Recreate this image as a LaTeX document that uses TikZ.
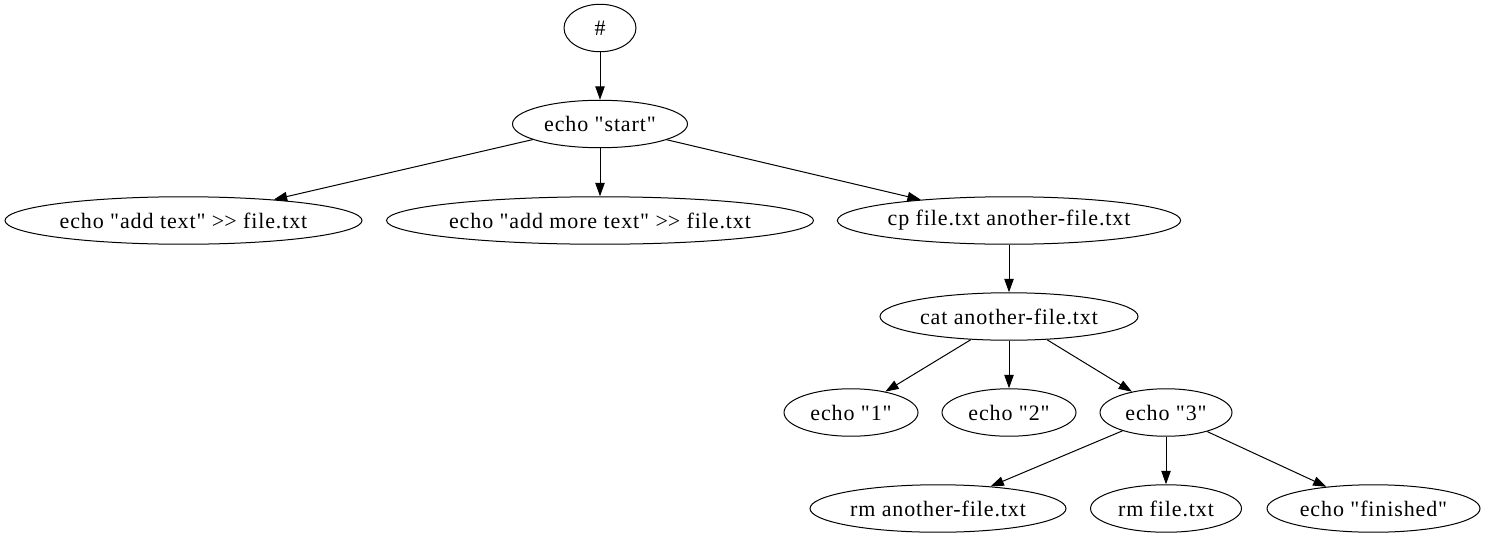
\documentclass[tikz,border=0pt]{standalone}
\usepackage{fontspec}
\newfontfamily\gvfont{Liberation Serif}[LetterSpace=4]
\usetikzlibrary{shapes.geometric,arrows.meta}

\tikzset{
  cmd/.style={draw, ellipse, inner sep=0pt, minimum height=35.6pt, line width=0.75pt, font=\gvfont\fontsize{16.5}{18}\selectfont},
  edge/.style={-{Triangle[length=10pt,width=7pt]}, line width=0.75pt}
}

\begin{document}
\begin{tikzpicture}[x=0.75pt,y=0.75pt,yscale=-1,xscale=1]
\useasboundingbox (0,0) rectangle (1487,539);

% Nodes
\node [cmd, minimum width=54pt] (root) at (600,28) {\#};
\node [cmd, minimum width=131.25pt] (start) at (600,124) {echo "start"};
\node [cmd, minimum width=267.75pt] (addtext) at (183.5,220.5) {echo "add text" >\kern0pt> file.txt};
\node [cmd, minimum width=320.25pt] (addmore) at (600,220.5) {echo "add more text" >\kern0pt> file.txt};
\node [cmd, minimum width=253.5pt] (cp) at (1009,220.5) {cp file.txt another-file.txt};
\node [cmd, minimum width=193.5pt] (cat) at (1009,316.5) {cat another-file.txt};
\node [cmd, minimum width=100.5pt] (one) at (851,412.5) {echo "1"};
\node [cmd, minimum width=100.5pt] (two) at (1009,412.5) {echo "2"};
\node [cmd, minimum width=99pt] (three) at (1166,412.5) {echo "3"};
\node [cmd, minimum width=192pt] (rmanother) at (938,508.5) {rm another-file.txt};
\node [cmd, minimum width=113.25pt] (rmfile) at (1166,508.5) {rm file.txt};
\node [cmd, minimum width=159.75pt] (finished) at (1373.5,508.5) {echo "finished"};

% Edges
\draw [edge] (root) -- (start);
\draw [edge] (start) -- (addtext);
\draw [edge] (start) -- (addmore);
\draw [edge] (start) -- (cp);
\draw [edge] (cp) -- (cat);
\draw [edge] (cat) -- (one);
\draw [edge] (cat) -- (two);
\draw [edge] (cat) -- (three);
\draw [edge] (three) -- (rmanother);
\draw [edge] (three) -- (rmfile);
\draw [edge] (three) -- (finished);

\end{tikzpicture}
\end{document}
